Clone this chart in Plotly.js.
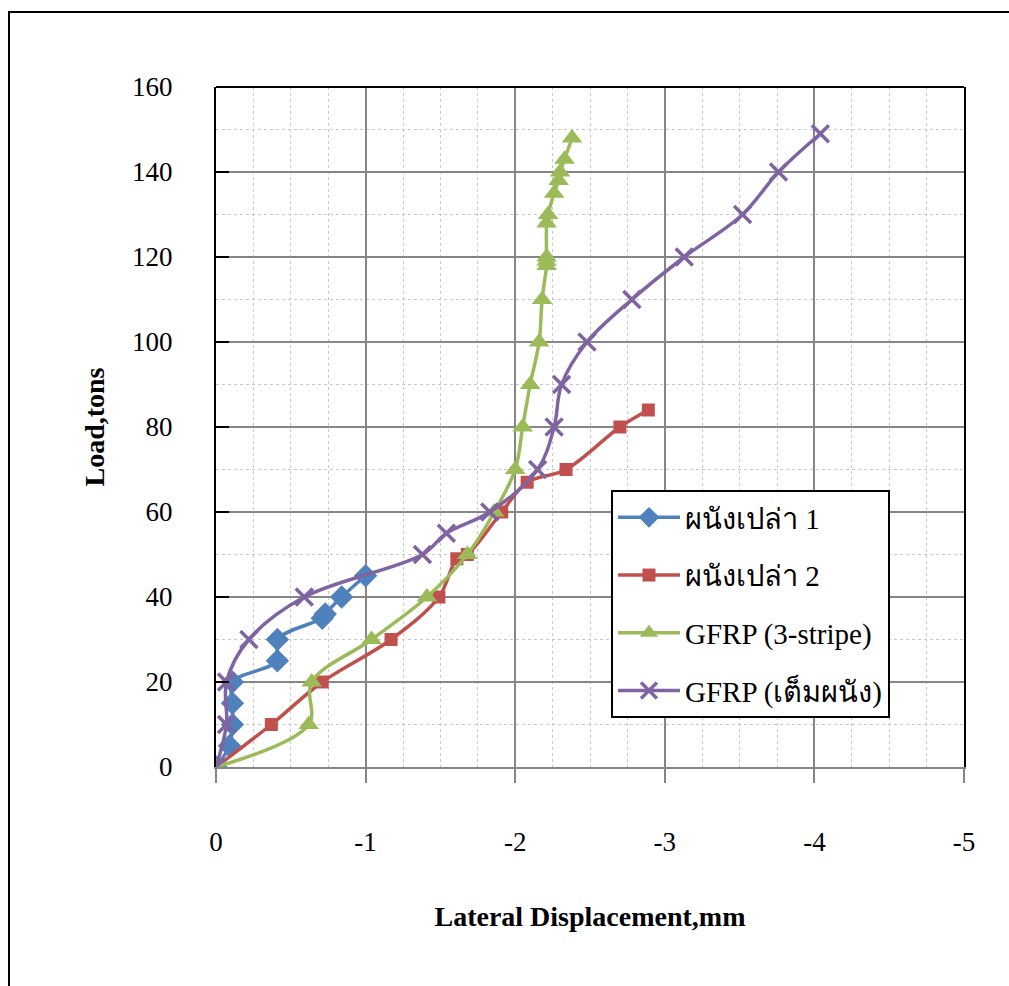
<!DOCTYPE html>
<html>
<head>
<meta charset="utf-8">
<script src="https://cdn.plot.ly/plotly-3.0.1.min.js"></script>
<style>
  html, body { margin: 0; padding: 0; background: #ffffff; overflow: hidden; }
  #chart { width: 1009px; height: 986px; }
</style>
</head>
<body>
<div id="chart"></div>
<script>
// ---- data ----
const seriesNames = ["ผนังเปล่า 1", "ผนังเปล่า 2", "GFRP (3-stripe)", "GFRP (เต็มผนัง)"];

const wall1X = [0, -0.09, -0.11, -0.11, -0.11, -0.41, -0.41, -0.71, -0.73, -0.84, -1.00];
const wall1Y = [0, 5, 10, 15, 20, 25, 30, 35, 36, 40, 45];

const wall2X = [0, -0.37, -0.71, -1.17, -1.49, -1.61, -1.68, -1.91, -2.08, -2.34, -2.70, -2.89];
const wall2Y = [0, 10, 20, 30, 40, 49, 50, 60, 67, 70, 80, 84];

const stripeX = [0, -0.62, -0.64, -1.04, -1.41, -1.68, -1.86, -2.00, -2.05, -2.10, -2.16, -2.18,
                 -2.21, -2.21, -2.21, -2.21, -2.22, -2.26, -2.29, -2.30, -2.33, -2.38];
const stripeY = [0, 10, 20, 30, 40, 50, 60, 70, 80, 90, 100, 110,
                 118, 119, 120, 128, 130, 135, 138, 140, 143, 148];

const fullX = [0, -0.07, -0.07, -0.22, -0.59, -1.38, -1.54, -1.83, -2.15, -2.26, -2.31, -2.48,
               -2.78, -3.13, -3.52, -3.76, -4.04];
const fullY = [0, 10, 20, 30, 40, 50, 55, 60, 70, 80, 90, 100,
               110, 120, 130, 140, 149];

const xTickVals = [0, -1, -2, -3, -4, -5];
const xTickText = ["0", "-1", "-2", "-3", "-4", "-5"];
const yTickVals = [0, 20, 40, 60, 80, 100, 120, 140, 160];

const xTitle = "Lateral Displacement,mm";
const yTitle = "Load,tons";

// ---- styling ----
const serif = "'Liberation Serif', 'Times New Roman', serif";
const colors = ["#4F81BD", "#C0504D", "#9BBB59", "#8064A2"];

function mk(x, y, i, marker) {
  return {
    x: x, y: y, name: seriesNames[i], type: "scatter", mode: "lines+markers",
    legendgroup: "g" + i,
    line: { color: colors[i], width: 3.5, shape: "spline", smoothing: 1 },
    marker: marker
  };
}

const traces = [
  mk(wall1X, wall1Y, 0, { symbol: "diamond", size: 18, color: colors[0] }),
  mk(wall2X, wall2Y, 1, { symbol: "square", size: 13, color: colors[1] }),
  mk(stripeX, stripeY, 2, { symbol: "triangle-up", size: 18, color: colors[2] }),
  mk(fullX, fullY, 3, { symbol: "x-thin-open", size: 17, color: colors[3], line: { color: colors[3], width: 3.5 } })
];

// plot area geometry (px) used for paper-coordinate shapes
const W = 1009, H = 986;
const L = 216, R = 45, T = 87, B = 219;
const pw = W - L - R, ph = H - T - B;
const px2x = p => (p - L) / pw;
const py2y = p => (H - B - p) / ph;

const layout = {
  width: W, height: H,
  margin: { l: L, r: R, t: T, b: B, pad: 0 },
  paper_bgcolor: "#ffffff",
  plot_bgcolor: "#ffffff",
  font: { family: serif, size: 27, color: "#000000" },
  showlegend: true,
  legend: {
    x: px2x(611), y: py2y(490), xanchor: "left", yanchor: "top",
    bgcolor: "#ffffff", bordercolor: "#000000", borderwidth: 2,
    font: { family: serif, size: 29, color: "#000000" },
    tracegroupgap: 17, itemwidth: 62
  },
  xaxis: {
    range: [0, -5],
    tickvals: xTickVals, ticktext: xTickText,
    ticks: "outside", ticklen: 14, tickwidth: 2, tickcolor: "#868686",
    ticklabelstandoff: 36,
    showgrid: true, gridcolor: "#868686", gridwidth: 2,
    zeroline: false,
    showline: true, linecolor: "#868686", linewidth: 2,
    minor: { dtick: 0.25, showgrid: true, gridcolor: "#c8c8c8", gridwidth: 1, griddash: "dot", ticks: "" },
    tickfont: { family: serif, size: 27 },
    title: { text: xTitle, font: { family: serif, size: 28, weight: "bold" }, standoff: 50 }
  },
  yaxis: {
    range: [0, 160],
    tickvals: yTickVals,
    ticks: "inside", ticklen: 13, tickwidth: 2, tickcolor: "#000000",
    ticklabelstandoff: 36,
    showgrid: true, gridcolor: "#868686", gridwidth: 2,
    zeroline: false,
    showline: true, linecolor: "#000000", linewidth: 2, mirror: true,
    minor: { dtick: 10, showgrid: true, gridcolor: "#c8c8c8", gridwidth: 1, griddash: "dot", ticks: "" },
    tickfont: { family: serif, size: 27 },
    title: { text: yTitle, font: { family: serif, size: 28, weight: "bold" }, standoff: 19 }
  },
  shapes: [
    // top border of plot area
    { type: "line", xref: "paper", yref: "paper", x0: 0, x1: 1, y0: 1, y1: 1,
      line: { color: "#000000", width: 2 } },
    // outer chart frame (extends past the window on the right and bottom)
    { type: "rect", xref: "paper", yref: "paper",
      x0: px2x(9), x1: px2x(1030), y0: py2y(12), y1: py2y(1010),
      line: { color: "#000000", width: 2 }, fillcolor: "rgba(0,0,0,0)", layer: "above" }
  ]
};

Plotly.newPlot("chart", traces, layout, { displayModeBar: false, staticPlot: true });
</script>
</body>
</html>
